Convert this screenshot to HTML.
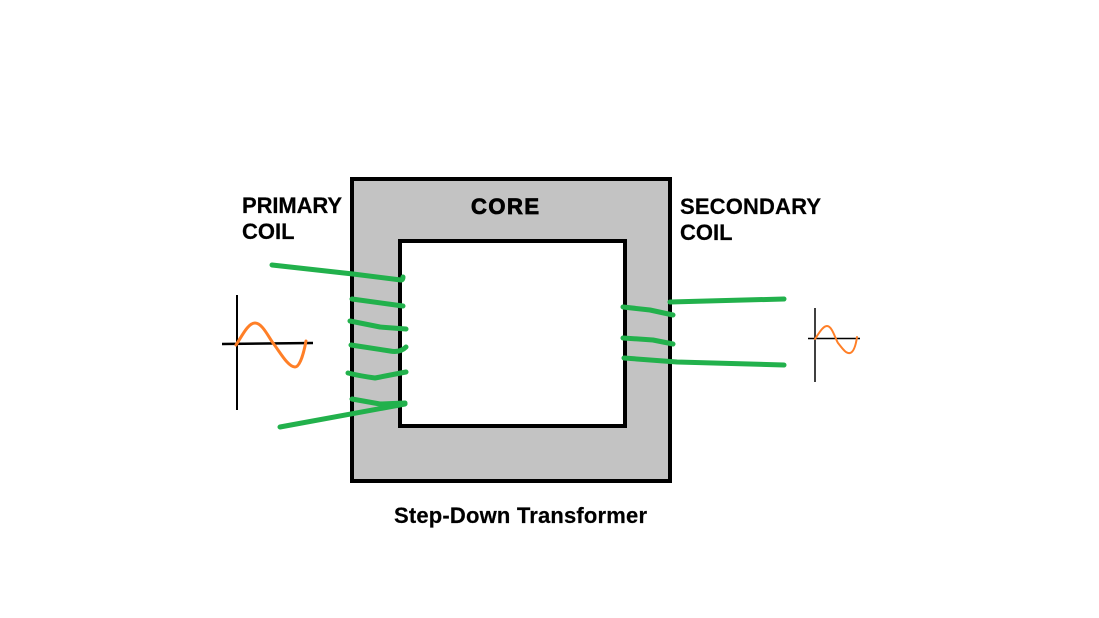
<!DOCTYPE html>
<html>
<head>
<meta charset="utf-8">
<style>
html,body{margin:0;padding:0;background:#fff;width:1099px;height:618px;overflow:hidden}
svg{display:block}
text{font-family:"Liberation Sans",Arial,sans-serif;font-weight:bold;fill:#000;stroke:#000;stroke-width:.2}
.g{fill:none;stroke:#22b14c;stroke-width:5;stroke-linecap:round;stroke-linejoin:round}
</style>
</head>
<body>
<svg width="1099" height="618" viewBox="0 0 1099 618" xmlns="http://www.w3.org/2000/svg">
<rect width="1099" height="618" fill="#fff"/>
<rect x="352" y="179" width="318" height="302" fill="#c3c3c3" stroke="#000" stroke-width="4"/>
<rect x="400" y="241" width="225" height="185" fill="#fff" stroke="#000" stroke-width="4"/>

<text x="242" y="213" font-size="22" textLength="100" lengthAdjust="spacing">PRIMARY</text>
<text x="242" y="239" font-size="22">COIL</text>
<text x="680" y="214" font-size="22" textLength="141" lengthAdjust="spacing">SECONDARY</text>
<text x="680" y="240" font-size="22">COIL</text>
<text x="471" y="214" font-size="22" textLength="68" lengthAdjust="spacing" style="stroke-width:.8">CORE</text>
<text x="394" y="523" font-size="22" textLength="253" lengthAdjust="spacing">Step-Down Transformer</text>

<g class="g">
<path d="M272 265L353 274L401 280Q403 280 403 277"/>
<path d="M352 299L403 306"/>
<path d="M350 321L380 327L406 329"/>
<path d="M351 345L390 351Q400 353 406 347"/>
<path d="M348 373Q360 376 375 378L406 372"/>
<path d="M352 399L380 404L405 403"/>
<path d="M280 427L405 404"/>
<path d="M670 302L784 299"/>
<path d="M623 307L650 310L673 315"/>
<path d="M623 338L653 340L673 344"/>
<path d="M624 358L677 362L784 365"/>
</g>

<path d="M237 295V410" stroke="#000" stroke-width="2" fill="none"/>
<path d="M222 344L313 343" stroke="#000" stroke-width="2.5" fill="none"/>
<path d="M236 345C242 336 248 323 255 323C262 323 268 336 273 343C280 352 288 367 295 367C300 367 304 352 306 341" fill="none" stroke="#ff7f27" stroke-width="3" stroke-linecap="round"/>

<path d="M815 308V382" stroke="#000" stroke-width="1.5" fill="none"/>
<path d="M808 338.500H860" stroke="#000" stroke-width="1.500" fill="none"/>
<path d="M815 339C819 333 823 326 827 326C832 326 835 338 838 343C842 348 846 354 850 353C854 352 856 344 857 337" fill="none" stroke="#ff7f27" stroke-width="2" stroke-linecap="round"/>
</svg>
</body>
</html>
